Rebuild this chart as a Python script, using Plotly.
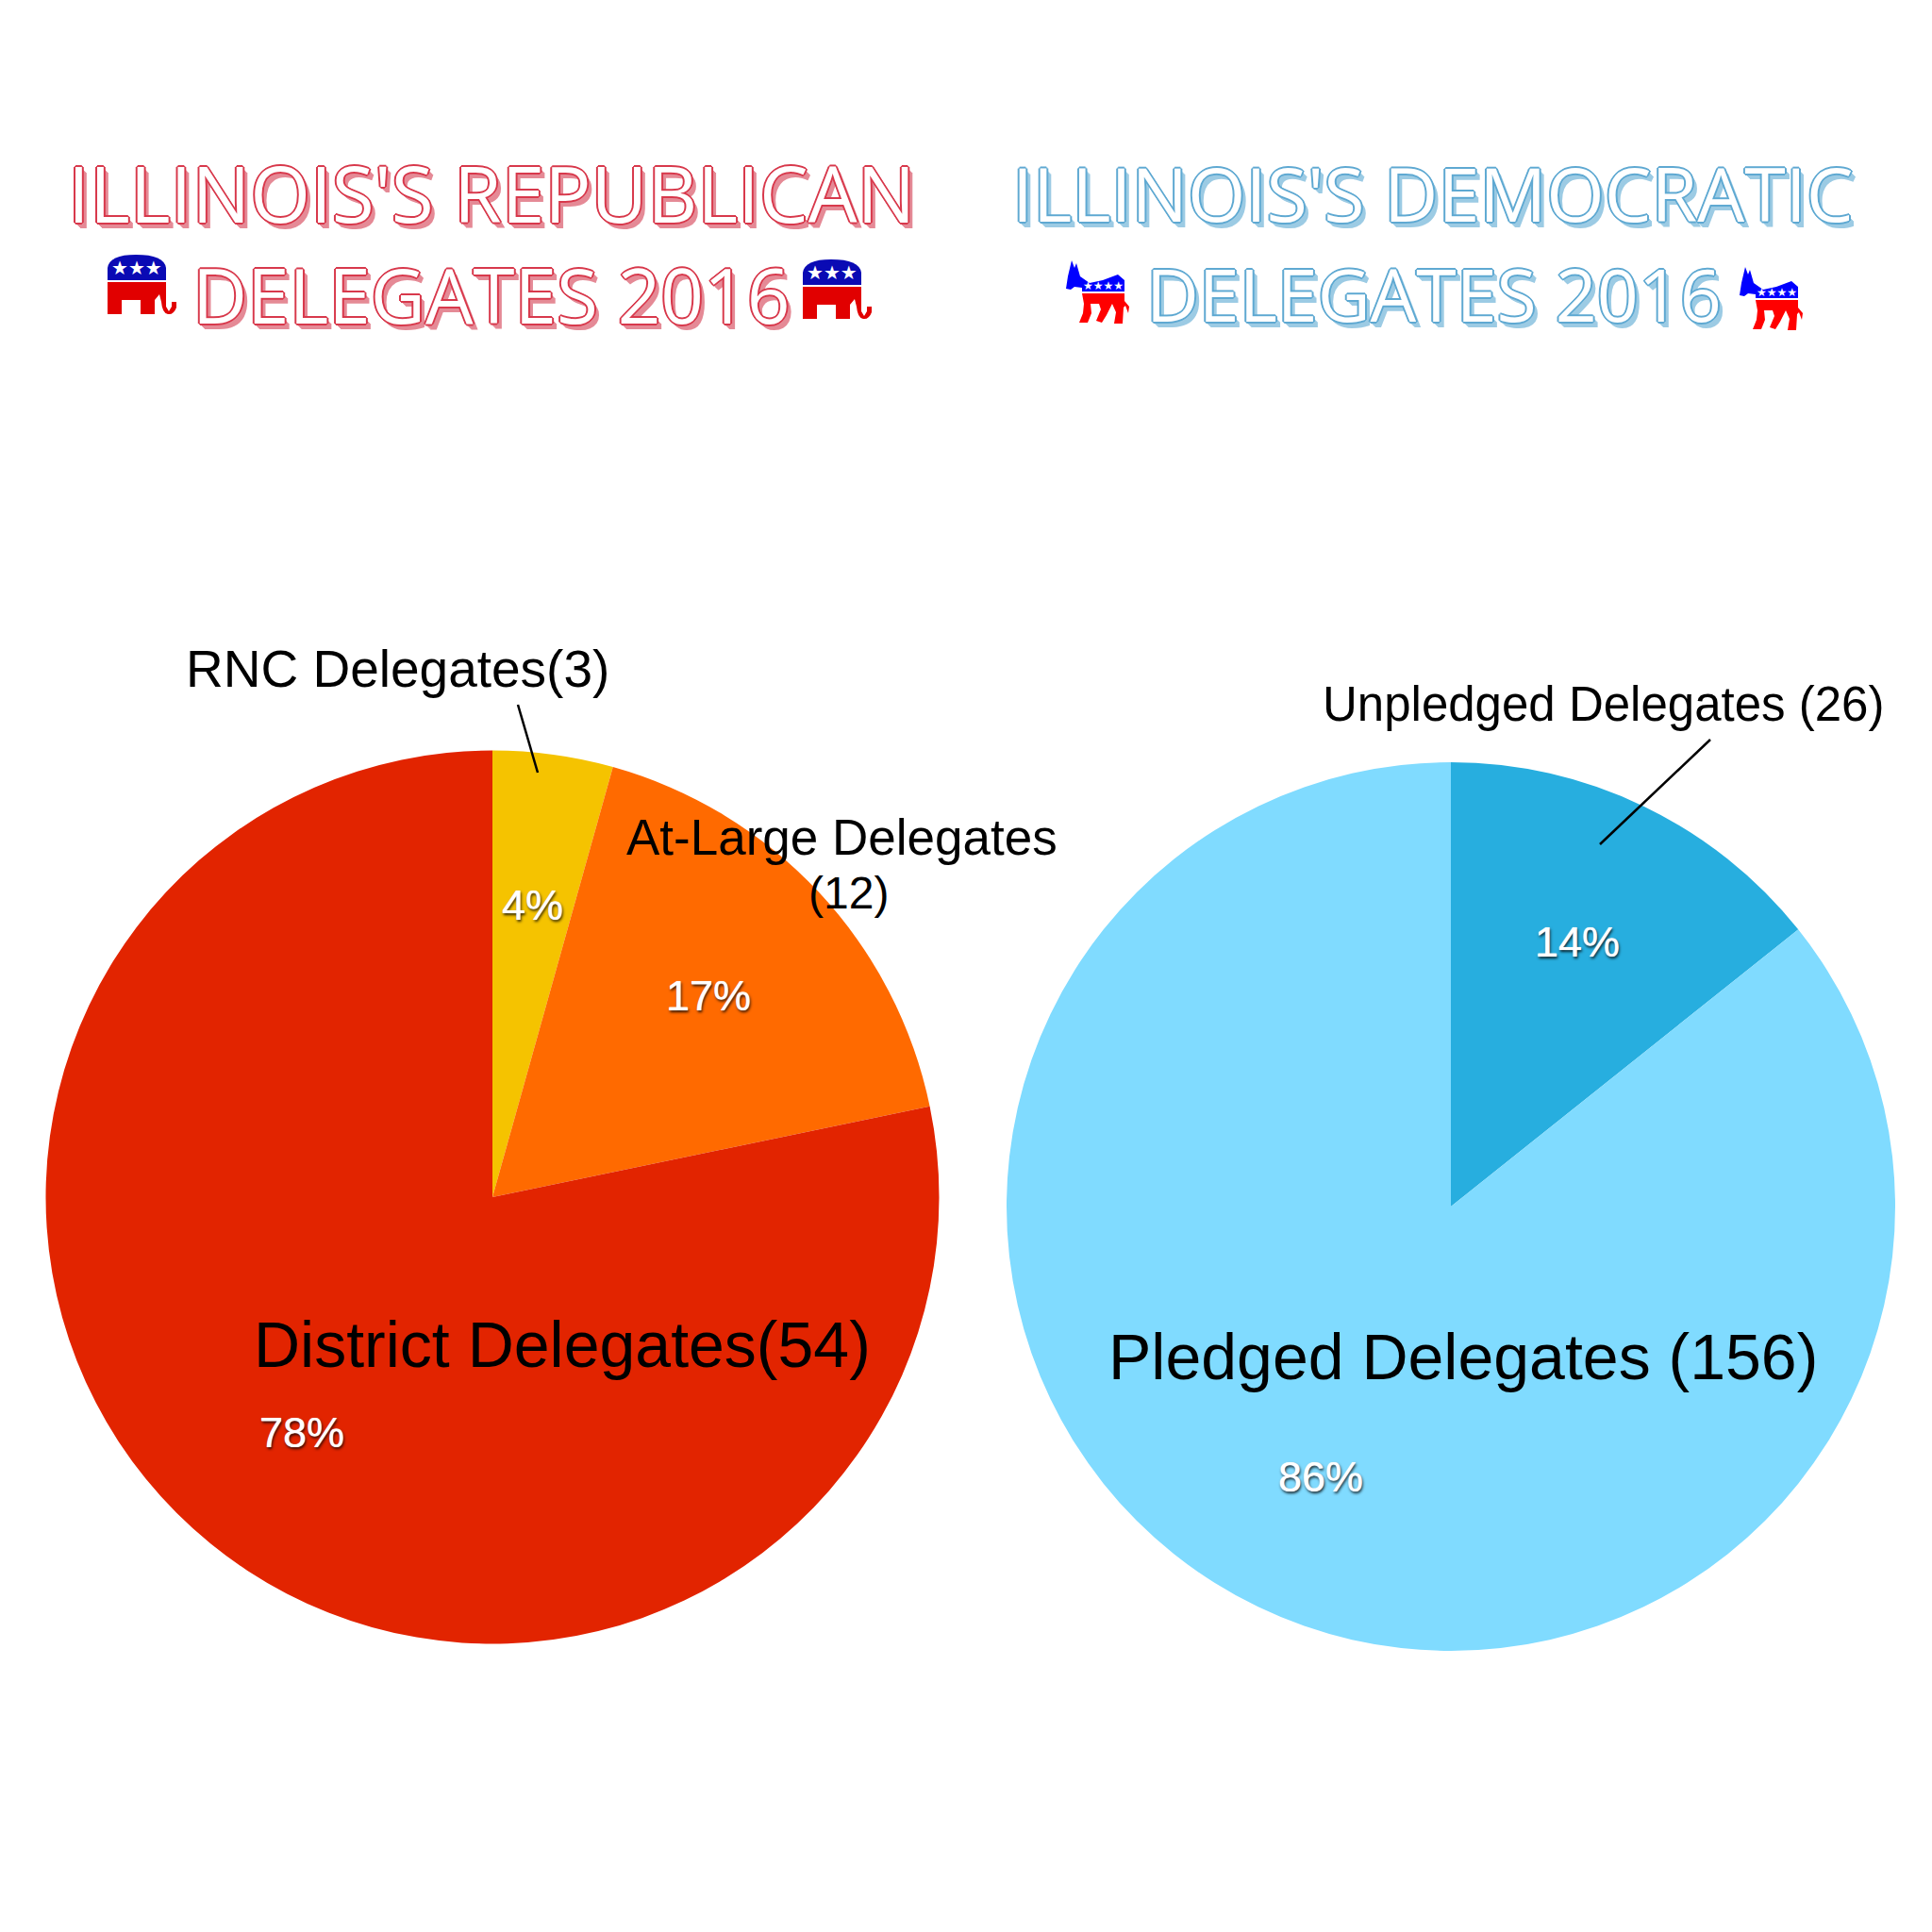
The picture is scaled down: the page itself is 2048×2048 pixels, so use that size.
import plotly.graph_objects as go

SIZE = 2048
rep_labels = ["RNC Delegates", "At-Large Delegates", "District Delegates"]
rep_values = [3, 12, 54]
rep_colors = ["#F5C300", "#FF6A00", "#E22400"]
rep_pct = ["4%", "17%", "78%"]
dem_labels = ["Unpledged Delegates", "Pledged Delegates"]
dem_values = [26, 156]
dem_colors = ["#27AEDF", "#80DBFF"]
dem_pct = ["14%", "86%"]


def px(x):
    return x / SIZE


def py(y):
    return 1 - y / SIZE


def dom(cx, cy, r):
    return dict(x=[px(cx - r), px(cx + r)], y=[py(cy + r), py(cy - r)])


def pie(labels, values, colors, domain):
    return go.Pie(labels=labels, values=values, sort=False, direction="clockwise",
                  rotation=0, textinfo="none", hoverinfo="label+value+percent",
                  marker=dict(colors=colors, line=dict(width=0)), domain=domain,
                  showlegend=False)


fig = go.Figure([pie(rep_labels, rep_values, rep_colors, dom(522, 1269, 473.5)),
                 pie(dem_labels, dem_values, dem_colors, dom(1538, 1279, 471))])

ann = []


def text(t, x, y, size, color="#000", family="Liberation Sans", shadow=None):
    f = dict(size=size, color=color, family=family)
    if shadow:
        f["shadow"] = shadow
    ann.append(dict(text=t, x=px(x), y=py(y), xref="paper", yref="paper", showarrow=False,
                    xanchor="center", yanchor="middle", font=f))


def outline(c, d):
    o = [(1, 1), (-1, -1), (1, -1), (-1, 1), (0, 2), (2, 0), (-2, 0), (0, -2)]
    parts = [f"{a}px {b}px 0 {c}" for a, b in o]
    parts += [f"{k}px {k+1}px 0 {d}" for k in (2, 3, 4, 5)]
    return ", ".join(parts)


TF = "Open Sans"
RED_O = outline("#D8394C", "#E58A96")
BLU_O = outline("#5FA9D2", "#9CCBE4")
text("ILLINOIS'S REPUBLICAN", 521, 204, 82, "#ffffff", TF, RED_O)
text("DELEGATES 2016", 521, 311, 80, "#ffffff", TF, RED_O)
text("ILLINOIS'S DEMOCRATIC", 1519, 204, 79, "#ffffff", TF, BLU_O)
text("DELEGATES 2016", 1520, 311, 77, "#ffffff", TF, BLU_O)

text("RNC Delegates(3)", 421, 709, 55)
text("At-Large Delegates", 892, 887, 53)
text("(12)", 899, 946, 48)
text("District Delegates(54)", 596, 1425, 68)
text("Pledged Delegates (156)", 1551, 1438, 68)
text("Unpledged Delegates (26)", 1699, 746, 51)

SH = "0 0 1px #fff, 1px 2px 3px rgba(0,0,0,0.85)"
for t, x, y in zip(rep_pct + dem_pct, [564, 751, 320, 1672, 1400], [959, 1055, 1518, 998, 1565]):
    text(t, x, y, 45, "#ffffff", "Liberation Sans", SH)

shapes = [
    dict(type="line", xref="paper", yref="paper", x0=px(549), y0=py(747), x1=px(570), y1=py(819),
         line=dict(color="#000", width=2.5)),
    dict(type="line", xref="paper", yref="paper", x0=px(1813), y0=py(784), x1=px(1696), y1=py(895),
         line=dict(color="#000", width=2.5)),
]


def icon_path(d, x0, y0):
    out = []
    for tok in d.split():
        if "," in tok:
            a, b = tok.split(",")
            out.append(f"{px(x0 + float(a)):.5f},{py(y0 + float(b)):.5f}")
        else:
            out.append(tok)
    return " ".join(out)


def add_path(d, x0, y0, color):
    shapes.append(dict(type="path", xref="paper", yref="paper", path=icon_path(d, x0, y0),
                       fillcolor=color, line=dict(width=0)))


EL_BLUE = "M 0,27 L 0,14 Q 2,0 30,0 Q 60,0 62,14 L 62,27 Z"
EL_RED = ("M 0,29 L 62,29 L 62,55 L 65,60 L 68,55 L 68,50 L 73,50 L 73,56 Q 70,64 64,63 "
          "Q 58,62 57,50 L 55,42 L 50,48 L 50,63 L 35,63 L 35,48 L 15,48 L 15,63 L 0,63 Z")
DK_BLUE = ("M 1,30 L 3,17 L 7,0 L 10,8 L 12,3 L 16,17 L 26,24 L 40,21 L 56,15 L 63,21 L 63,33 "
           "L 18,33 L 18,29 L 10,28 L 6,31 Z")
DK_RED = ("M 18,35 L 63,35 L 63,43 L 68,49 L 67,56 L 64,48 L 62,50 L 61,67 L 52,67 L 54,55 L 50,46 "
          "L 44,58 L 39,66 L 33,64 L 38,52 L 36,46 L 27,46 L 28,56 L 24,66 L 15,66 L 19,56 L 20,46 Z")

for x0, y0 in [(114, 270), (851, 275)]:
    add_path(EL_BLUE, x0, y0, "#0A0AB4")
    add_path(EL_RED, x0, y0, "#E10000")
    text("★★★", x0 + 31, y0 + 14, 20, "#ffffff", "DejaVu Sans")
for x0, y0 in [(1129, 276), (1843, 283)]:
    add_path(DK_BLUE, x0, y0, "#0000FF")
    add_path(DK_RED, x0, y0, "#FF0000")
    text("★★★★", x0 + 40, y0 + 27, 12, "#ffffff", "DejaVu Sans")

fig.update_layout(width=SIZE, height=SIZE, margin=dict(l=0, r=0, t=0, b=0),
                  paper_bgcolor="#ffffff", plot_bgcolor="#ffffff",
                  annotations=ann, shapes=shapes)
fig.write_html("out.html", config=dict(displayModeBar=False),
               post_script="document.body.style.margin='0';")
